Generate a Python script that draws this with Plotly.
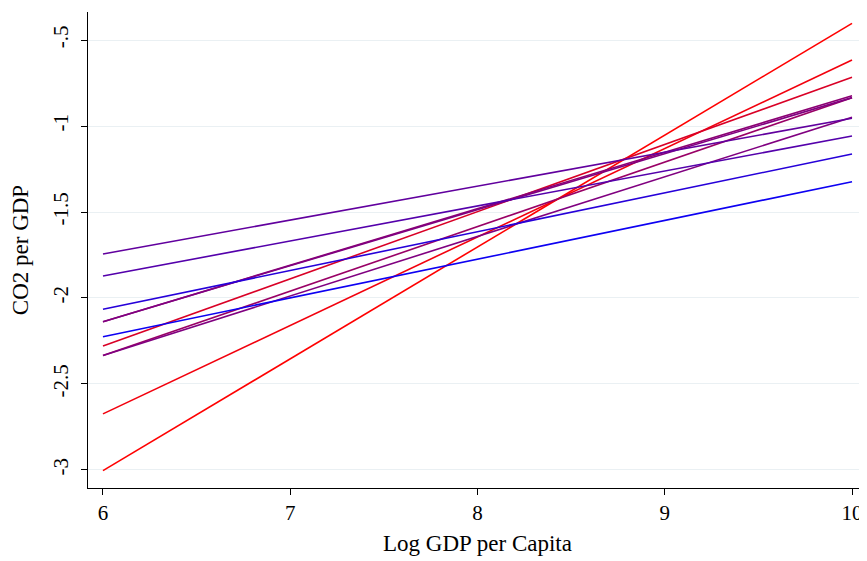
import plotly.graph_objects as go

# Data: fitted lines evaluated at the two ends of the x range
x_ends = [6, 10]
y_at_6 = [-3.004, -2.674, -2.279, -2.335, -2.138, -2.335, -2.138, -1.744, -1.872, -2.066, -2.225]
y_at_10 = [-0.403, -0.616, -0.717, -0.835, -0.824, -0.949, -0.835, -0.955, -1.058, -1.163, -1.324]
red_share = [1.0, 0.95, 0.85, 0.6, 0.55, 0.5, 0.5, 0.38, 0.33, 0.15, 0.05]

y_tick_vals = [-3, -2.5, -2, -1.5, -1, -0.5]
y_tick_text = ["-3", "-2.5", "-2", "-1.5", "-1", "-.5"]
x_tick_vals = [6, 7, 8, 9, 10]

fig = go.Figure()
for y0, y1, t in zip(y_at_6, y_at_10, red_share):
    r = round(255 * t)
    b = round(255 * (1 - t))
    fig.add_trace(go.Scatter(x=x_ends, y=[y0, y1], mode="lines",
                             line=dict(color=f"rgb({r},0,{b})", width=1.6),
                             showlegend=False, hoverinfo="skip"))

font = "Liberation Serif, Times New Roman, serif"
fig.update_layout(
    width=859, height=553,
    margin=dict(l=80, r=0, t=4, b=73),
    paper_bgcolor="white", plot_bgcolor="white",
    font=dict(family=font, size=21, color="black"),
    xaxis=dict(range=[5.92, 10.08], tickvals=x_tick_vals, showgrid=False,
               showline=True, linecolor="black", linewidth=1.2,
               ticks="outside", ticklen=6, tickcolor="black",
               zeroline=False, ticklabelstandoff=0, tickfont=dict(size=21),
               title=dict(text="Log GDP per Capita", font=dict(size=23), standoff=10)),
    yaxis=dict(range=[-3.105, -0.337], tickvals=y_tick_vals, ticktext=y_tick_text,
               tickangle=-90, showgrid=True, gridcolor="#eaf0f3", gridwidth=1,
               showline=True, linecolor="black", linewidth=1.2,
               ticks="outside", ticklen=6, tickcolor="black",
               zeroline=False, ticklabelstandoff=5, tickfont=dict(size=21),
               title=dict(text="CO2 per GDP", font=dict(size=23), standoff=14)),
)
fig.write_html("out.html")
